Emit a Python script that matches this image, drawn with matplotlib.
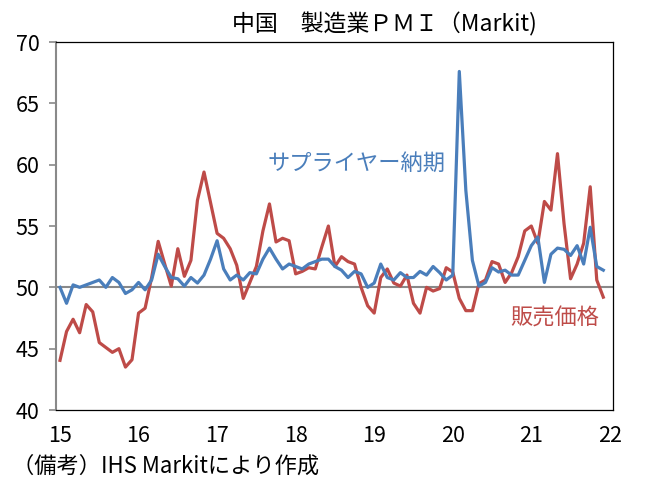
import numpy as np
import matplotlib
matplotlib.use('Agg')
import matplotlib.pyplot as plt

plt.rcParams['font.family'] = ['Noto Sans CJK JP', 'DejaVu Sans']

# monthly data, Jan 2015 - Dec 2021
start_year = 15
supplier = [50.0, 48.7, 50.2, 50.0, 50.2, 50.4, 50.6, 50.0, 50.8, 50.4, 49.5, 49.8,
            50.4, 49.8, 50.6, 52.7, 51.7, 50.8, 50.7, 50.1, 50.8, 50.35, 51.0, 52.3,
            53.8, 51.5, 50.6, 51.0, 50.6, 51.2, 51.1, 52.3, 53.2, 52.3, 51.5, 51.9,
            51.7, 51.5, 51.9, 52.1, 52.3, 52.3, 51.7, 51.4, 50.8, 51.3, 51.1, 50.0,
            50.35, 51.9, 50.8, 50.6, 51.2, 50.8, 50.8, 51.3, 51.0, 51.7, 51.2, 50.6,
            51.0, 67.6, 57.9, 52.2, 50.1, 50.4, 51.6, 51.25, 51.4, 51.0, 51.0, 52.2,
            53.4, 54.1, 50.4, 52.7, 53.2, 53.1, 52.6, 53.4, 51.9, 54.9, 51.7, 51.4]
prices = [44.05, 46.4, 47.4, 46.3, 48.6, 48.0, 45.5, 45.1, 44.7, 45.0, 43.5, 44.1,
          47.9, 48.3, 50.8, 53.75, 51.9, 50.1, 53.15, 50.9, 52.2, 57.1, 59.4, 56.9,
          54.4, 54.0, 53.15, 51.8, 49.1, 50.4, 51.7, 54.6, 56.8, 53.7, 54.0, 53.8,
          51.1, 51.3, 51.6, 51.5, 53.3, 55.0, 51.7, 52.5, 52.1, 51.9, 50.0, 48.5,
          47.9, 50.8, 51.5, 50.35, 50.1, 51.0, 48.7, 47.9, 50.0, 49.7, 49.9, 51.6,
          51.25, 49.1, 48.1, 48.1, 50.3, 50.6, 52.1, 51.9, 50.4, 51.2, 52.5, 54.6,
          55.0, 53.6, 57.0, 56.3, 60.9, 55.2, 50.7, 51.9, 53.6, 58.2, 50.6, 49.2]
year_ticks = [15, 16, 17, 18, 19, 20, 21, 22]

x = start_year + np.arange(len(supplier)) / 12

fig = plt.figure(figsize=(6.58, 4.88), dpi=100)
ax = fig.add_axes([0.0851, 0.1598, 0.8465, 0.7541])

blue = '#4A7EBB'
red = '#BE4B48'
ax.axhline(50, color='#898989', lw=1.5, zorder=1)
ax.plot(x, supplier, color=blue, lw=2.3, zorder=3)
ax.plot(x, prices, color=red, lw=2.3, zorder=2)

ax.set_xlim(14.949, 22.04)
ax.set_ylim(40, 70)
ax.set_yticks(range(40, 71, 5))
ax.set_xticks(year_ticks)
ax.tick_params(axis='y', direction='out', length=5, color='#898989', width=1.2,
               labelsize=15.5, pad=7)
ax.tick_params(axis='x', length=0, labelsize=15.5, pad=11)
for s in ax.spines.values():
    s.set_color('black')
    s.set_linewidth(0.9)
ax.spines['left'].set_color('#898989')
ax.spines['left'].set_linewidth(1.5)

ax.text(18.77, 60.15, 'サプライヤー納期', color=blue, fontsize=16, ha='center', va='center')
ax.text(21.30, 47.5, '販売価格', color=red, fontsize=16, ha='center', va='center')

fig.text(0.585, 0.951, '中国　製造業ＰＭＩ（Markit)', fontsize=16.5, ha='center', va='center')
fig.text(0.018, 0.045, '（備考）IHS Markitにより作成', fontsize=16, ha='left', va='center')

fig.savefig('out.png', dpi=100)
